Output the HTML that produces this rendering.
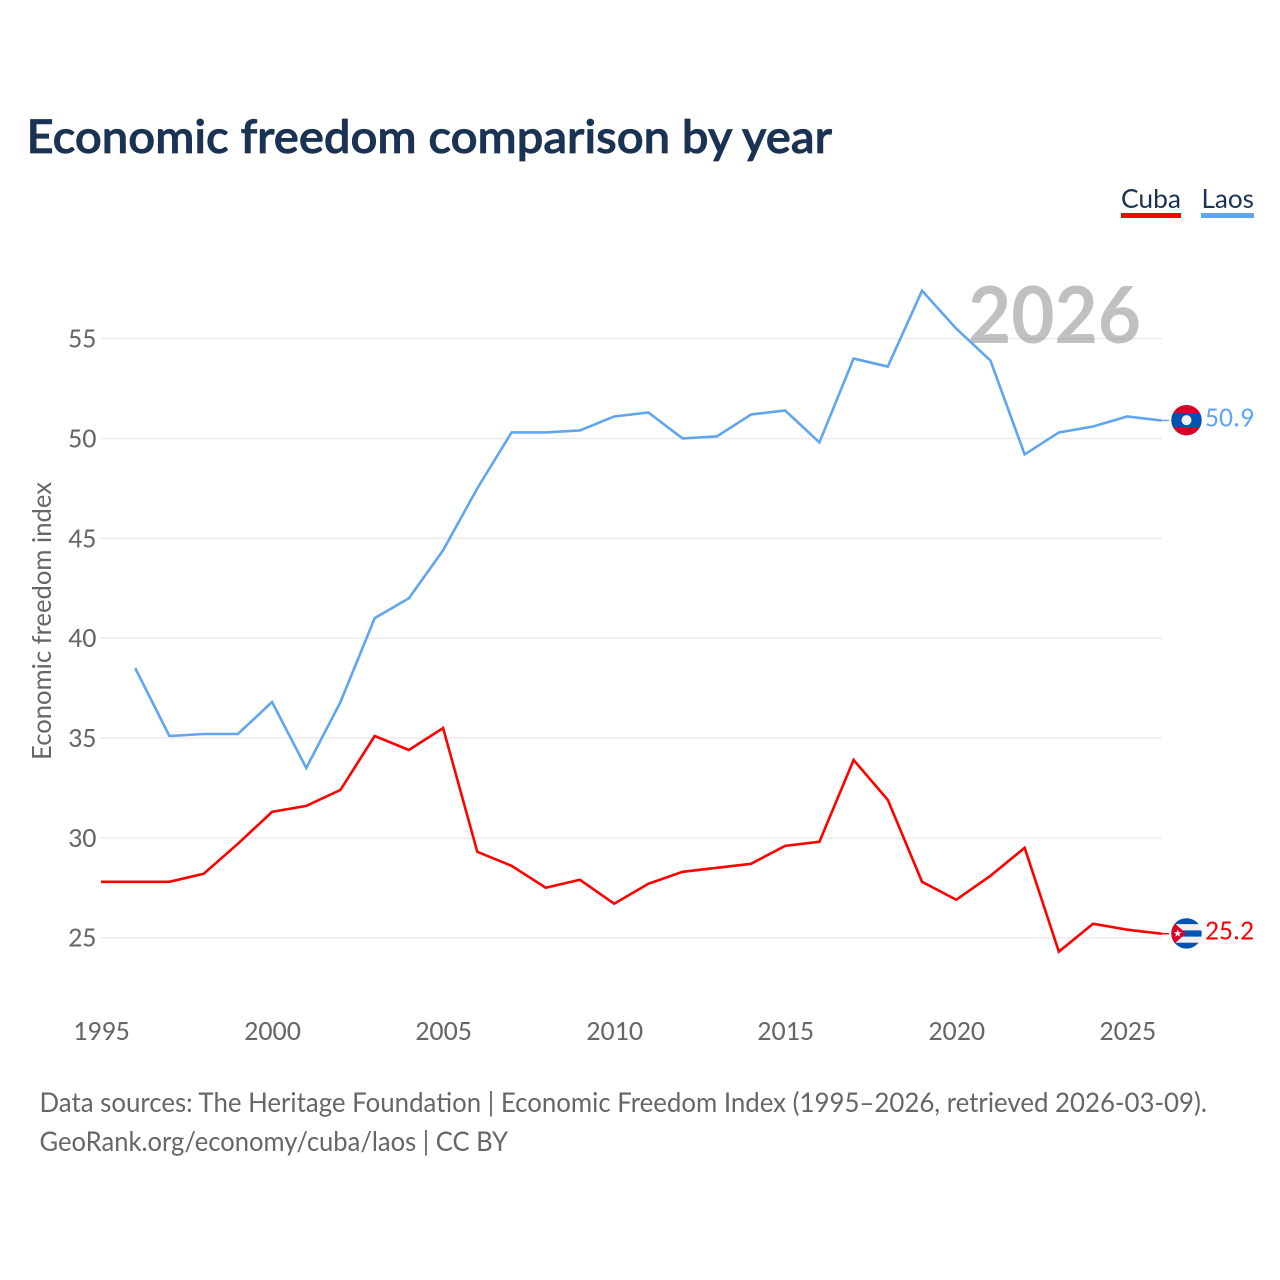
<!DOCTYPE html>
<html lang="en">
<head>
<meta charset="utf-8">
<title>Economic freedom comparison by year</title>
<style>
html,body{margin:0;padding:0;background:#fff}
svg{display:block}
text{font-family:"Carlito","Lato","Liberation Sans",sans-serif}
text.lato{font-family:"Lato","Carlito","Liberation Sans",sans-serif}
</style>
</head>
<body>
<svg id="chart" xmlns="http://www.w3.org/2000/svg" width="1280" height="1280" viewBox="0 0 1280 1280">
  <rect width="1280" height="1280" fill="#fff"/>
  <text class="lato" x="26.500" y="153" font-size="46.500" font-weight="600" fill="#1a3353" stroke="#1a3353" stroke-width="0.8" textLength="805.500" lengthAdjust="spacingAndGlyphs">Economic freedom comparison by year</text>

  <g>
    <text class="lato" x="1121" y="208" font-size="26" fill="#1a3353" textLength="60" lengthAdjust="spacingAndGlyphs">Cuba</text>
    <rect x="1121" y="213" width="60" height="5" fill="#ff0000"/>
  </g>
  <g>
    <text class="lato" x="1201.500" y="208" font-size="26" fill="#1a3353" textLength="52.500" lengthAdjust="spacingAndGlyphs">Laos</text>
    <rect x="1201" y="213" width="53" height="5" fill="#60a5ef"/>
  </g>

  <g id="grid"></g>
  <g id="yticks"></g>
  <g id="xticks"></g>
  <text class="lato" transform="translate(51,760) rotate(-90)" font-size="26" fill="#666" textLength="278" lengthAdjust="spacingAndGlyphs">Economic freedom index</text>

  <text class="lato" x="968" y="343" font-size="79" font-weight="700" fill="#999" fill-opacity="0.62" textLength="173" lengthAdjust="spacingAndGlyphs">2026</text>

  <g id="series"></g>

  <g id="flag-laos">
    <clipPath id="clip-laos"><circle cx="1186.500" cy="420.500" r="15.200"/></clipPath>
    <g clip-path="url(#clip-laos)">
      <rect x="1171" y="405" width="31" height="31" fill="#d80027"/>
      <rect x="1171" y="413.500" width="31" height="14" fill="#0052b4"/>
      <circle cx="1186.500" cy="420.500" r="5" fill="#f0f0f0"/>
    </g>
  </g>
  <g id="flag-cuba">
    <clipPath id="clip-cuba"><circle cx="1186.500" cy="933" r="15.200"/></clipPath>
    <g clip-path="url(#clip-cuba)">
      <rect x="1171" y="917.500" width="31" height="31" fill="#f0f0f0"/>
      <rect x="1171" y="917.500" width="31" height="6.200" fill="#0052b4"/>
      <rect x="1171" y="930" width="31" height="6.200" fill="#0052b4"/>
      <rect x="1171" y="942.300" width="31" height="6.200" fill="#0052b4"/>
      <polygon points="1168,917 1186,933 1168,949" fill="#d80027"/>
      <polygon points="1177.700,928.800 1178.700,931.700 1181.700,931.700 1179.300,933.500 1180.200,936.400 1177.700,934.700 1175.200,936.400 1176.100,933.500 1173.700,931.700 1176.700,931.700" fill="#f0f0f0"/>
    </g>
  </g>
  <text id="end-label-laos" x="1205" y="426" font-size="28" fill="#60a5ef" textLength="49" lengthAdjust="spacingAndGlyphs"></text>
  <text id="end-label-cuba" x="1205" y="939" font-size="28" fill="#ff0000" textLength="49" lengthAdjust="spacingAndGlyphs"></text>

  <text class="lato" x="39.500" y="1112" font-size="27" fill="#666" textLength="1167.500" lengthAdjust="spacingAndGlyphs">Data sources: The Heritage Foundation | Economic Freedom Index (1995–2026, retrieved 2026-03-09).</text>
  <text class="lato" x="39.500" y="1151" font-size="27" fill="#666" textLength="468.500" lengthAdjust="spacingAndGlyphs">GeoRank.org/economy/cuba/laos | CC BY</text>
</svg>
<script>
const years = [1995,1996,1997,1998,1999,2000,2001,2002,2003,2004,2005,2006,2007,2008,2009,2010,2011,2012,2013,2014,2015,2016,2017,2018,2019,2020,2021,2022,2023,2024,2025,2026];
const cubaValues = [27.8,27.8,27.8,28.2,29.7,31.3,31.6,32.4,35.1,34.4,35.5,29.3,28.6,27.5,27.9,26.7,27.7,28.3,28.5,28.7,29.6,29.8,33.9,31.9,27.8,26.9,28.1,29.5,24.3,25.7,25.4,25.2];
const laosValues = [null,38.5,35.1,35.2,35.2,36.8,33.5,36.8,41.0,42.0,44.4,47.5,50.3,50.3,50.4,51.1,51.3,50.0,50.1,51.2,51.4,49.8,54.0,53.6,57.4,55.5,53.9,49.2,50.3,50.6,51.1,50.9];
const yTickValues = [25,30,35,40,45,50,55];
const xTickValues = [1995,2000,2005,2010,2015,2020,2025];

const NS = 'http://www.w3.org/2000/svg';
function xScale(year){ return 101 + (year - 1995) * (1161.500 - 101) / 31; }
function yScale(value){ return 937.700 - (value - 25) * 19.97; }
function make(tag, attrs, parent){
  const el = document.createElementNS(NS, tag);
  for (const k in attrs) el.setAttribute(k, attrs[k]);
  parent.appendChild(el);
  return el;
}

const grid = document.getElementById('grid');
const yticks = document.getElementById('yticks');
const xticks = document.getElementById('xticks');
const series = document.getElementById('series');

yTickValues.forEach(function(v){
  const line = make('line', {x1:101, x2:1162, y1:yScale(v), y2:yScale(v), stroke:'#ebebeb', 'stroke-width':1.5}, grid);
  
  
  const t = make('text', {x:96.500, y:yScale(v) + 9, 'text-anchor':'end', 'font-size':28, fill:'#666'}, yticks);
  
  
  t.textContent = v;
});

xTickValues.forEach(function(y){
  const t = make('text', {x:xScale(y) + 0.500, y:1040, 'text-anchor':'middle', 'font-size':28, fill:'#666'}, xticks);
  
  
  t.textContent = y;
});

function drawSeries(values, color, name){
  let d = '';
  values.forEach(function(v, i){
    if (v === null) return;
    d += (d ? 'L' : 'M') + xScale(years[i]).toFixed(2) + ',' + yScale(v).toFixed(2);
  });
  const path = make('path', {d:d, fill:'none', stroke:color, 'stroke-width':2.6, 'stroke-linejoin':'miter'}, series);
  
  
  const last = values[values.length - 1];
  const link = make('line', {x1:xScale(years[years.length - 1]), x2:1169, y1:yScale(last), y2:yScale(last), stroke:color, 'stroke-width':1.5}, series);
  
  
  document.getElementById('end-label-' + name).textContent = last.toFixed(1);
  document.getElementById('end-label-' + name).setAttribute('y', yScale(last) + 6);
  const flag = document.getElementById('flag-' + name);
  flag.setAttribute('transform', 'translate(0,' + (yScale(last) - 0.3 - (name === 'cuba' ? 933 : 420.5)).toFixed(2) + ')');
}
drawSeries(laosValues, '#60a5ef', 'laos');
drawSeries(cubaValues, '#ff0000', 'cuba');
</script>
</body>
</html>
